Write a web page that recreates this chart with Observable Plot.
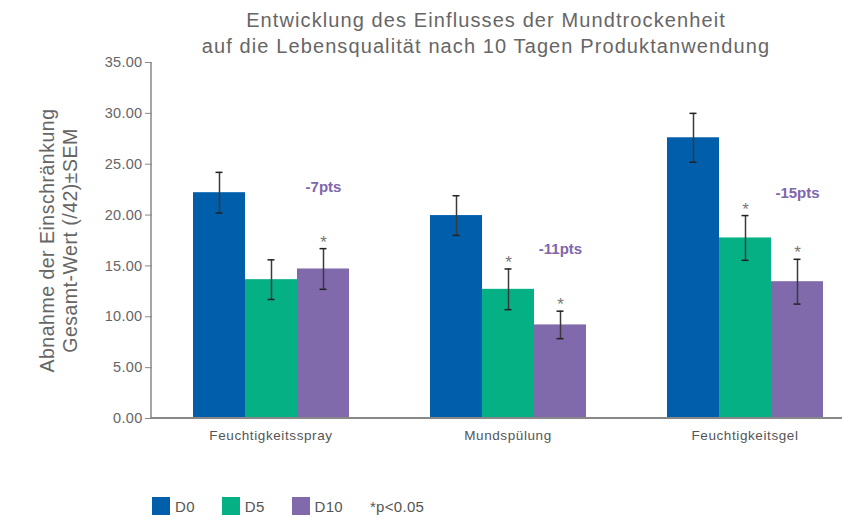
<!DOCTYPE html>
<html>
<head>
<meta charset="utf-8">
<script src="https://cdn.jsdelivr.net/npm/d3@7"></script>
<script src="https://cdn.jsdelivr.net/npm/@observablehq/plot@0.6"></script>
<style>
  body { margin: 0; background: #fff; font-family: "Liberation Sans", Arial, sans-serif; }
  #wrap { width: 842px; height: 530px; position: relative; overflow: hidden; }
  #title { position: absolute; left: 136px; width: 700px; top: 7px; text-align: center; font-size: 20px; letter-spacing: 1.1px; line-height: 26px; color: #666; }
  #chart { position: absolute; left: 0; top: 52px; }
  #legend { position: absolute; left: 152px; top: 497px; display: flex; align-items: center; font-size: 15px; letter-spacing: 0.3px; color: #555; }
  .sw { width: 18px; height: 18px; display: inline-block; margin-right: 5px; }
  .item { display: flex; align-items: center; margin-right: 27px; }
  svg g[aria-label^="fx-axis"] text { letter-spacing: 0.6px; }
  svg g[aria-label^="y-axis"] text { letter-spacing: 0.3px; }
</style>
</head>
<body>
<div id="wrap">
  <div id="title">Entwicklung des Einflusses der Mundtrockenheit<br>auf die Lebensqualität nach 10 Tagen Produktanwendung</div>
  <div id="chart"></div>
  <div id="legend"></div>
</div>
<script>
const groups = ["Feuchtigkeitsspray", "Mundspülung", "Feuchtigkeitsgel"];
const series = ["D0", "D5", "D10"];
const colors = ["#005EAB", "#06B085", "#806AAC"];
const meanD0 = [22.2, 19.95, 27.6];
const meanD5 = [13.65, 12.7, 17.75];
const meanD10 = [14.7, 9.2, 13.45];
const semD0 = [2.0, 1.95, 2.4];
const semD5 = [1.95, 2.0, 2.2];
const semD10 = [2.0, 1.35, 2.2];
const sigD0 = [false, false, false];
const sigD5 = [false, true, true];
const sigD10 = [true, true, true];
const deltaLabels = ["-7pts", "-11pts", "-15pts"];
const deltaAnchorY = [22.7, 16.6, 22.2];
const yTicks = [0, 5, 10, 15, 20, 25, 30, 35];
const yLabel = "Abnahme der Einschränkung\nGesamt-Wert (/42)±SEM";
const sigNote = "*p<0.05";

const means = {D0: meanD0, D5: meanD5, D10: meanD10};
const sems = {D0: semD0, D5: semD5, D10: semD10};
const sigs = {D0: sigD0, D5: sigD5, D10: sigD10};
const rows = [];
groups.forEach((g, i) => series.forEach(s => rows.push({
  group: g, series: s, value: means[s][i], sem: sems[s][i], sig: sigs[s][i],
  lo: means[s][i] - sems[s][i], hi: means[s][i] + sems[s][i]
})));
const deltas = groups.map((g, i) => ({group: g, series: "D10", label: deltaLabels[i], y: deltaAnchorY[i]}));

const W = 842, H = 406;
const chart = Plot.plot({
  width: W, height: H,
  marginLeft: 151, marginRight: 0, marginTop: 10, marginBottom: 40,
  style: {fontFamily: "Liberation Sans, Arial, sans-serif", fontSize: "14px", color: "#888", background: "transparent"},
  fx: {domain: groups, range: [151, 863], padding: 0, label: null, axis: null},
  x: {domain: series, paddingInner: 0, paddingOuter: 0.75, axis: null},
  y: {domain: [0, 35], axis: null},
  color: {domain: series, range: colors},
  marks: [
    Plot.axisY({ticks: yTicks, tickFormat: d3.format(".2f"), label: null, tickSize: 7, tickPadding: 3, fontSize: 14.5, fill: "#666", stroke: "#888"}),
    Plot.axisFx({anchor: "bottom", label: null, tickSize: 0, tickPadding: 12, fontSize: 13.5, fill: "#555"}),
    Plot.barY(rows, {fx: "group", x: "series", y: "value", fill: "series"}),
    Plot.ruleX(rows, {fx: "group", x: "series", y1: "lo", y2: "hi", stroke: "#3a3a3a", strokeWidth: 1.5}),
    Plot.tickY(rows, {fx: "group", x: "series", y: "lo", stroke: "#222", strokeWidth: 1.5, insetLeft: 22.5, insetRight: 22.5}),
    Plot.tickY(rows, {fx: "group", x: "series", y: "hi", stroke: "#222", strokeWidth: 1.5, insetLeft: 22.5, insetRight: 22.5}),
    Plot.text(rows.filter(d => d.sig), {fx: "group", x: "series", y: "hi", text: () => "*", fill: "#777", fontSize: 17, lineAnchor: "bottom", dy: -1}),
    Plot.text(deltas, {fx: "group", x: "series", y: "y", text: "label", fill: "#8066AC", fontWeight: "bold", fontSize: 15}),
    Plot.text([yLabel], {fx: () => groups[0], frameAnchor: "left", textAnchor: "middle", lineAnchor: "middle", rotate: -90, dx: -94.5, fontSize: 19.5, lineHeight: 1.18, fill: "#666"})
  ]
});
const svg = d3.select(chart);
const ys = chart.scale("y");
const y0 = ys.apply(0), y35 = ys.apply(35);
svg.append("line").attr("x1", 151).attr("x2", 151).attr("y1", y35).attr("y2", y0)
  .attr("stroke", "#888").attr("stroke-width", 1.5);
svg.append("line").attr("x1", 150).attr("x2", W).attr("y1", y0).attr("y2", y0)
  .attr("stroke", "#888").attr("stroke-width", 2);
svg.selectAll("text").filter(function() { return this.textContent.startsWith("Abnahme") || (this.parentNode && this.parentNode.textContent.startsWith("Abnahme")); }).style("letter-spacing", "0.5px");
document.getElementById("chart").appendChild(chart);

const legend = document.getElementById("legend");
series.forEach((s, i) => {
  const it = document.createElement("div");
  it.className = "item";
  it.innerHTML = `<span class="sw" style="background:${colors[i]}"></span><span>${s}</span>`;
  legend.appendChild(it);
});
const note = document.createElement("div");
note.className = "item";
note.textContent = sigNote;
legend.appendChild(note);
</script>
</body>
</html>
